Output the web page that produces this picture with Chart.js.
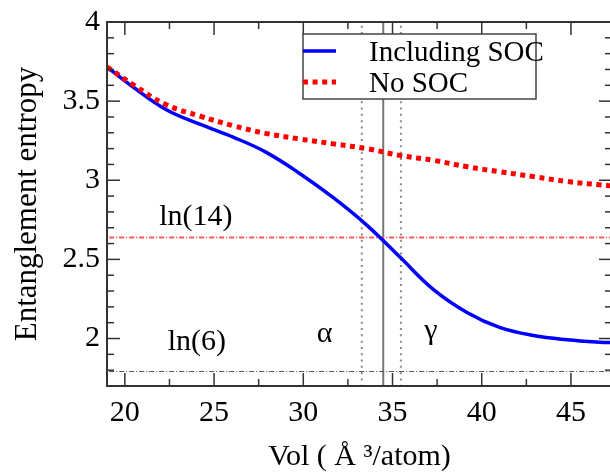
<!DOCTYPE html>
<html><head><meta charset="utf-8">
<script src="https://cdn.jsdelivr.net/npm/chart.js@4/dist/chart.umd.min.js"></script>
<style>
html,body{margin:0;padding:0;overflow:hidden;background:#fff;width:610px;height:472px}
#wrap{width:622px;height:472px;position:relative}
</style></head><body><div id="wrap"><canvas id="c"></canvas></div>
<script>
// ---- data ----
const vols     = [19.0, 20.5, 22.3, 24.2, 26.1, 27.9, 29.8, 31.7, 33.6, 35.4, 37.3, 39.2, 41.0, 42.9, 44.8, 46.6, 47.5];
const socEnt   = [3.716, 3.586, 3.447, 3.354, 3.271, 3.178, 3.043, 2.888, 2.712, 2.516, 2.309, 2.163, 2.070, 2.019, 1.992, 1.977, 1.974];
const noSocEnt = [3.716, 3.602, 3.478, 3.406, 3.344, 3.296, 3.261, 3.230, 3.199, 3.157, 3.126, 3.085, 3.054, 3.023, 2.992, 2.971, 2.962];
const seriesNames = ['Including SOC', 'No SOC'];
const xTicks = [20, 25, 30, 35, 40, 45];
const xMinor = [22.5, 27.5, 32.5, 37.5, 42.5, 47.5];
const yTicks = [2, 2.5, 3, 3.5, 4];
const yTickLabels = ['2', '2.5', '3', '3.5', '4'];
const yMinor = [1.8, 1.9, 2.1, 2.2, 2.3, 2.4, 2.6, 2.7, 2.8, 2.9, 3.1, 3.2, 3.3, 3.4, 3.6, 3.7, 3.8, 3.9];
const ln14 = Math.log(14);
const ln6 = Math.log(6);
const alphaEdge = 33.28;   // dotted
const transition = 34.48; // solid
const gammaEdge = 35.47;   // dotted
const X_MIN = 19, X_MAX = 47.3, Y_MIN = 1.7, Y_MAX = 4.0;

const FONT = "'Liberation Serif', 'Times New Roman', serif";
const pts = (xs, ys) => xs.map((v, i) => ({x: v, y: ys[i]}));
const hline = v => [{x: X_MIN - 1, y: v}, {x: X_MAX + 1, y: v}];
const vline = v => [{x: v, y: Y_MIN - 1}, {x: v, y: Y_MAX + 1}];

const frameAndLegend = {
  id: 'frameAndLegend',
  afterDatasetsDraw(chart) {
    const {ctx, chartArea: a, scales: {x, y}} = chart;
    ctx.save();
    ctx.strokeStyle = '#333';
    const seg = (x1, y1, x2, y2) => { ctx.beginPath(); ctx.moveTo(x1, y1); ctx.lineTo(x2, y2); ctx.stroke(); };
    ctx.lineWidth = 1.5;
    xTicks.forEach(v => { const p = x.getPixelForValue(v); seg(p, a.bottom, p, a.bottom - 13); seg(p, a.top, p, a.top + 13); });
    xMinor.forEach(v => { const p = x.getPixelForValue(v); seg(p, a.bottom, p, a.bottom - 7); seg(p, a.top, p, a.top + 7); });
    yTicks.forEach(v => { const p = y.getPixelForValue(v); seg(a.left, p, a.left + 13, p); seg(a.right, p, a.right - 13, p); });
    yMinor.forEach(v => { const p = y.getPixelForValue(v); seg(a.left, p, a.left + 7, p); seg(a.right, p, a.right - 7, p); });
    ctx.lineWidth = 2;
    ctx.strokeRect(a.left, a.top, a.right - a.left, a.bottom - a.top);

    // annotations (anchored in data coords)
    ctx.fillStyle = '#000';
    ctx.font = '30px ' + FONT;
    ctx.textAlign = 'center';
    ctx.textBaseline = 'alphabetic';
    const notes = [['ln(14)', 23.98, 2.72], ['ln(6)', 24.04, 1.925], ['α', 31.2, 1.975], ['γ', 37.15, 2.0]];
    notes.forEach(([t, vx, vy]) => ctx.fillText(t, x.getPixelForValue(vx), y.getPixelForValue(vy)));

    // legend
    const L = {x: 303, y: 34, w: 233, h: 65};
    ctx.fillStyle = '#fff';
    ctx.fillRect(L.x, L.y, L.w, L.h);
    ctx.lineWidth = 1.5; ctx.strokeStyle = '#444';
    ctx.strokeRect(L.x, L.y, L.w, L.h);
    const ds = chart.data.datasets;
    const rows = [[ds[1], 51, 61], [ds[0], 82, 92]];
    rows.forEach(([d, ly, ty]) => {
      ctx.save();
      ctx.strokeStyle = d.borderColor; ctx.lineWidth = d.borderWidth;
      ctx.setLineDash(d.borderDash || []); ctx.lineCap = 'butt';
      seg(L.x, ly, L.x + 33, ly);
      ctx.restore();
      ctx.fillStyle = '#000'; ctx.font = '29px ' + FONT; ctx.textAlign = 'left';
      ctx.fillText(d.label, 369, ty);
    });
    ctx.restore();
  }
};

new Chart(document.getElementById('c'), {
  type: 'scatter',
  data: {
    datasets: [
      {label: seriesNames[1], data: pts(vols, noSocEnt), showLine: true, borderColor: '#ff0000', borderWidth: 5, borderDash: [5, 4.6], pointRadius: 0, tension: 0.4},
      {label: seriesNames[0], data: pts(vols, socEnt), showLine: true, borderColor: '#0000ff', borderWidth: 3.5, pointRadius: 0, tension: 0.4},
      {label: 'ln14', data: hline(ln14), showLine: true, borderColor: '#ff5a5a', borderWidth: 2, borderDash: [5, 2, 1, 2], pointRadius: 0},
      {label: 'ln6', data: hline(ln6), showLine: true, borderColor: '#555', borderWidth: 1.2, borderDash: [5, 2, 1, 2], pointRadius: 0},
      {label: 'a', data: vline(alphaEdge), showLine: true, borderColor: '#8a8a8a', borderWidth: 2, borderDash: [2, 4.3], pointRadius: 0},
      {label: 't', data: vline(transition), showLine: true, borderColor: '#777', borderWidth: 2, pointRadius: 0},
      {label: 'g', data: vline(gammaEdge), showLine: true, borderColor: '#8a8a8a', borderWidth: 2, borderDash: [2, 4.3], pointRadius: 0}
    ]
  },
  options: {
    responsive: true, maintainAspectRatio: false, animation: false,
    devicePixelRatio: 1,
    layout: {padding: {top: 15, right: 10, left: 0, bottom: 0}},
    plugins: {legend: {display: false}, tooltip: {enabled: false}},
    scales: {
      x: {
        type: 'linear', min: X_MIN, max: X_MAX,
        afterBuildTicks: s => { s.ticks = xTicks.map(v => ({value: v})); },
        afterFit: s => { s.height = 86; },
        grid: {display: false, drawTicks: false}, border: {display: false},
        ticks: {color: '#000', padding: 9, maxRotation: 0, font: {family: FONT, size: 30}, callback: v => String(v)},
        title: {display: true, text: 'Vol ( Å ³/atom)', color: '#000', padding: {top: 0, bottom: 0}, font: {family: FONT, size: 30, lineHeight: 1}}
      },
      y: {
        type: 'linear', min: Y_MIN, max: Y_MAX,
        afterBuildTicks: s => { s.ticks = yTicks.map(v => ({value: v})); },
        afterFit: s => { s.width = 107; },
        grid: {display: false, drawTicks: false}, border: {display: false},
        ticks: {color: '#000', padding: 7, font: {family: FONT, size: 30, lineHeight: 1}, callback: v => yTickLabels[yTicks.indexOf(v)]},
        title: {display: true, text: 'Entanglement entropy', color: '#000', padding: {top: 12, bottom: 0}, font: {family: FONT, size: 31, lineHeight: 1}}
      }
    }
  },
  plugins: [frameAndLegend]
});
</script></body></html>
